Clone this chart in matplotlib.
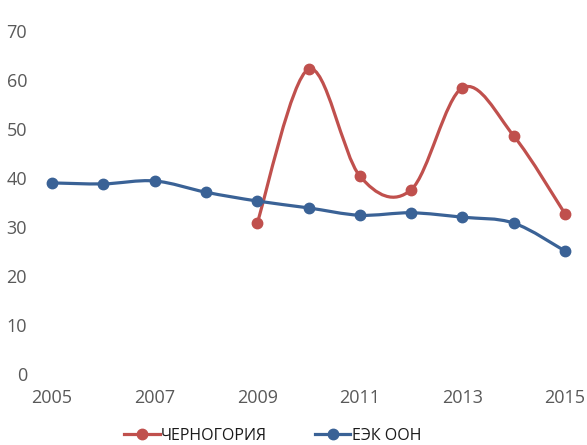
import numpy as np
import matplotlib.pyplot as plt
from matplotlib.path import Path
from matplotlib.patches import PathPatch
from matplotlib.lines import Line2D

plt.rcParams['font.family'] = ['Open Sans', 'DejaVu Sans']

# data
years_ece = [2005, 2006, 2007, 2008, 2009, 2010, 2011, 2012, 2013, 2014, 2015]
ece = [39.0, 38.8, 39.4, 37.1, 35.3, 33.9, 32.4, 32.9, 32.0, 30.8, 25.1]
years_mne = [2009, 2010, 2011, 2012, 2013, 2014, 2015]
mne = [30.8, 62.2, 40.4, 37.6, 58.4, 48.6, 32.7]

red = '#C0504D'
blue = '#3A6296'
grey = '#595959'


# smooth line like Excel (Catmull-Rom turned into Bezier pieces)
def smooth_path(x, y):
    p = np.column_stack([x, y]).astype(float)
    ext = np.vstack([p[0], p, p[-1]])
    verts = [p[0]]
    codes = [Path.MOVETO]
    for i in range(len(p) - 1):
        p0, p1, p2, p3 = ext[i], ext[i + 1], ext[i + 2], ext[i + 3]
        c1 = p1 + (p2 - p0) / 6
        c2 = p2 - (p3 - p1) / 6
        verts += [c1, c2, p2]
        codes += [Path.CURVE4] * 3
    return Path(verts, codes)


fig = plt.figure(figsize=(5.87, 4.45), dpi=100)
ax = fig.add_axes([52 / 587, 71 / 445, 513 / 587, 343 / 445])

for xs, ys, c in [(years_mne, mne, red), (years_ece, ece, blue)]:
    ax.add_patch(PathPatch(smooth_path(xs, ys), fill=False, edgecolor=c,
                           lw=2.3, capstyle='round', zorder=2))
    ax.plot(xs, ys, 'o', color=c, ms=7.5, zorder=3, clip_on=False)

ax.set_xlim(2005, 2015)
ax.set_ylim(0, 70)
ax.set_xticks(range(2005, 2016, 2))
ax.set_yticks(range(0, 71, 10))
for s in ax.spines.values():
    s.set_visible(False)
ax.tick_params(length=0, labelsize=13, colors=grey)
ax.tick_params(axis='y', pad=18)
ax.tick_params(axis='x', pad=11)

handles = [Line2D([], [], color=red, lw=2.3, marker='o', ms=7.5),
           Line2D([], [], color=blue, lw=2.3, marker='o', ms=7.5)]
fig.legend(handles, ['ЧЕРНОГОРИЯ', 'ЕЭК ООН'], loc='lower center', ncol=2,
           frameon=False, fontsize=11.5, bbox_to_anchor=(0.465, -0.03),
           handlelength=2.2, handletextpad=0.1, columnspacing=3.0,
           labelcolor='#1a1a1a')

fig.savefig('out.png', dpi=100)
